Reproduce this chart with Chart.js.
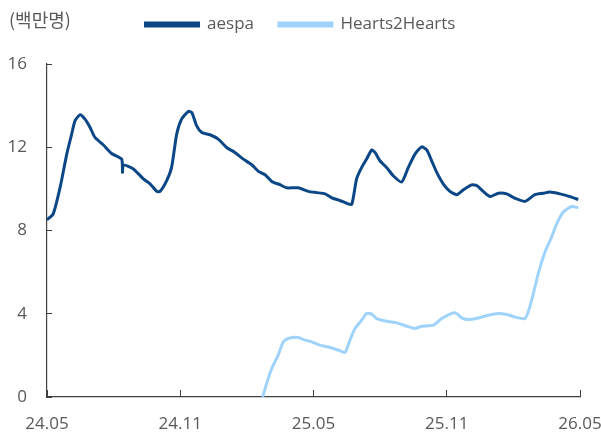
<!DOCTYPE html>
<html>
<head>
<meta charset="utf-8">
<script src="https://cdn.jsdelivr.net/npm/chart.js@4"></script>
<style>
  html, body { margin: 0; padding: 0; background: #fff; }
  #wrap { width: 601px; height: 437px; }
</style>
</head>
<body>
<div id="wrap"><canvas id="chart_canvas" width="601" height="437"></canvas></div>
<script>
// x values are months since 24.05
const tickLabels = ["24.05", "24.11", "25.05", "25.11", "26.05"];
const unitLabel = "(백만명)";

const aespaX = [0.0, 0.28, 0.59, 0.89, 1.11, 1.26, 1.49, 1.71, 1.94, 2.16, 2.53, 2.91, 3.36, 3.40, 3.44,
  3.89, 4.34, 4.64, 4.94, 5.09, 5.39, 5.61, 5.84, 6.06, 6.36, 6.52, 6.74, 6.97, 7.34, 7.71,
  8.09, 8.46, 8.84, 9.22, 9.52, 9.82, 10.12, 10.49, 10.79, 11.31, 11.77, 12.14, 12.52, 12.82,
  13.19, 13.49, 13.72, 13.94, 14.17, 14.39, 14.62, 14.77, 14.99, 15.29, 15.59, 15.97, 16.27,
  16.57, 16.87, 17.10, 17.32, 17.55, 17.84, 18.14, 18.45, 18.74, 19.12, 19.35, 19.64, 19.95,
  20.32, 20.70, 21.07, 21.52, 21.97, 22.35, 22.65, 23.10, 23.55, 23.92];
const aespaY = [8.51, 8.8, 10.07, 11.67, 12.63, 13.27, 13.56, 13.35, 12.95, 12.47, 12.12, 11.7, 11.43, 10.8, 11.15,
  10.96, 10.48, 10.24, 9.88, 9.88, 10.4, 11.03, 12.63, 13.35, 13.72, 13.67, 13.03, 12.71, 12.6, 12.39,
  11.99, 11.75, 11.43, 11.16, 10.84, 10.68, 10.36, 10.2, 10.05, 10.05, 9.88, 9.82, 9.76, 9.57,
  9.44, 9.31, 9.25, 10.48, 11.03, 11.43, 11.87, 11.75, 11.35, 11.03, 10.63, 10.33, 11.03,
  11.67, 12.02, 11.87, 11.35, 10.79, 10.24, 9.88, 9.72, 9.95, 10.19, 10.16, 9.88, 9.63,
  9.79, 9.76, 9.55, 9.4, 9.72, 9.79, 9.85, 9.76, 9.63, 9.49];

const h2hX = [9.71, 9.89, 10.12, 10.41, 10.64, 10.86, 11.31, 11.62, 11.92, 12.29, 12.74, 13.12, 13.42,
  13.64, 13.87, 14.17, 14.39, 14.62, 14.84, 15.29, 15.75, 16.20, 16.57, 16.87, 17.39, 17.77,
  18.29, 18.45, 18.67, 18.97, 19.42, 19.87, 20.32, 20.70, 21.15, 21.52, 21.67, 21.90, 22.12,
  22.42, 22.72, 22.95, 23.24, 23.62, 23.92];
const h2hY = [0, 0.65, 1.37, 2.01, 2.65, 2.81, 2.86, 2.73, 2.65, 2.49, 2.38, 2.25, 2.14,
  2.73, 3.29, 3.69, 4.01, 3.98, 3.77, 3.64, 3.56, 3.40, 3.29, 3.40, 3.45, 3.77,
  4.04, 4.01, 3.80, 3.72, 3.80, 3.93, 4.01, 3.96, 3.82, 3.77, 4.09, 4.97, 5.93,
  6.96, 7.68, 8.32, 8.88, 9.15, 9.09];

const toPoints = (xs, ys) => xs.map((x, i) => ({ x: x, y: ys[i] }));

const textColor = "#595959";
const axisColor = "#404040";
const fontFamily = "'Open Sans', 'Noto Sans', sans-serif";

const unitPlugin = {
  id: "unitPlugin",
  beforeInit(chart) {
    const legend = chart.legend;
    const fit = legend.fit;
    legend.fit = function () {
      fit.call(this);
      this.height += 12;
    };
  },
  afterLayout(chart) {
    // pull the legend row up to the unit label line
    chart.legend.top -= 9;
    chart.legend.bottom -= 9;
  },
  afterDraw(chart) {
    const ctx = chart.ctx;
    ctx.save();
    ctx.fillStyle = textColor;
    ctx.font = "18px 'Noto Sans CJK KR', sans-serif";
    ctx.textBaseline = "middle";
    ctx.textAlign = "left";
    ctx.fillText(unitLabel, 9, 20);
    ctx.restore();
  }
};

const context = document.getElementById("chart_canvas").getContext("2d");
const chart = new Chart(context, {
  type: "line",
  data: {
    datasets: [{
      label: "aespa",
      data: toPoints(aespaX, aespaY),
      borderColor: "#0b4787",
      backgroundColor: "#0b4787",
      borderWidth: 3,
      pointRadius: 0,
      tension: 0.2
    }, {
      label: "Hearts2Hearts",
      data: toPoints(h2hX, h2hY),
      borderColor: "#9fd3fb",
      backgroundColor: "#9fd3fb",
      borderWidth: 3,
      pointRadius: 0,
      tension: 0.2
    }]
  },
  options: {
    responsive: false,
    animation: false,
    layout: { padding: 0 },
    plugins: {
      legend: {
        position: "top",
        labels: {
          boxWidth: 53,
          boxHeight: 3,
          padding: 25,
          color: textColor,
          font: { family: fontFamily, size: 17 }
        }
      },
      tooltip: { enabled: false }
    },
    scales: {
      x: {
        type: "linear",
        min: 0,
        max: 24,
        afterFit: s => { s.height = 40; s.paddingRight = 21; s.paddingLeft = 22; },
        afterBuildTicks: s => { s.ticks = tickLabels.map((t, i) => ({ value: i * 6 })); },
        ticks: {
          color: textColor,
          font: { family: fontFamily, size: 17 },
          padding: 24,
          maxRotation: 0,
          callback: (v) => tickLabels[v / 6]
        },
        grid: { drawOnChartArea: false, tickLength: -7, color: axisColor },
        border: { color: axisColor, width: 1.2 }
      },
      y: {
        min: 0,
        max: 16,
        afterFit: s => { s.width = 47; },
        ticks: {
          stepSize: 4,
          color: textColor,
          font: { family: fontFamily, size: 17 },
          padding: 25
        },
        grid: { drawOnChartArea: false, tickLength: -5, color: axisColor },
        border: { color: axisColor, width: 1.2 }
      }
    }
  },
  plugins: [unitPlugin]
});
</script>
</body>
</html>
